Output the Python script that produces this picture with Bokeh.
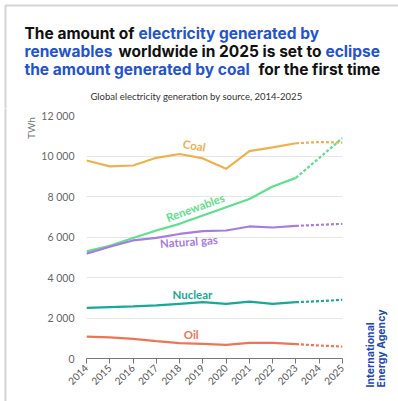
from bokeh.plotting import figure
from bokeh.layouts import column, row
from bokeh.models import Label, FixedTicker, Range1d
from bokeh.embed import file_html
from bokeh.resources import INLINE
import math

# Global electricity generation by source (TWh); 2024-2025 are forecasts
years = [2014, 2015, 2016, 2017, 2018, 2019, 2020, 2021, 2022, 2023, 2024, 2025]
coal = [9780, 9490, 9530, 9910, 10100, 9880, 9370, 10240, 10430, 10630, 10690, 10660]
renewables = [5290, 5570, 5950, 6320, 6650, 7060, 7470, 7880, 8490, 8920, 9900, 10890]
natural_gas = [5180, 5520, 5830, 5960, 6150, 6290, 6320, 6520, 6470, 6550, 6600, 6650]
nuclear = [2500, 2540, 2570, 2620, 2700, 2780, 2700, 2810, 2700, 2780, 2830, 2900]
oil = [1085, 1040, 970, 855, 760, 720, 675, 775, 775, 710, 640, 590]

last_actual = 2023
y_ticks = [0, 2000, 4000, 6000, 8000, 10000, 12000]
y_tick_labels = ["0", "2 000", "4 000", "6 000", "8 000", "10 000", "12 000"]

FONT = "Lato"
HEAD_FONT = "Inter"
BLUE = "#2453cf"
BLACK = "#111111"
CARD = "#d4d4d4"

series = [
    ("Coal", coal, "#efb04f"),
    ("Renewables", renewables, "#5fe08c"),
    ("Natural gas", natural_gas, "#a67ddf"),
    ("Nuclear", nuclear, "#18a898"),
    ("Oil", oil, "#ee7553"),
]

# page geometry (pixels)
W, H = 398, 401
HEAD_H = 108
LEFT_W = 38
SIDE_W = 48
FRAME_L, FRAME_R, FRAME_T, FRAME_B = 78, 342, 115, 358
CARD_EDGE = 5


def blank(width, height, x0, y0):
    """A bare canvas whose data units are page pixels (y grows downward)."""
    f = figure(width=width, height=height, output_backend="svg",
               toolbar_location=None, x_axis_type=None, y_axis_type=None,
               x_range=Range1d(x0, x0 + width), y_range=Range1d(y0 + height, y0),
               min_border=0, frame_align=False)
    f.title = None
    f.outline_line_color = None
    f.grid.grid_line_color = None
    f.background_fill_color = "white"
    f.border_fill_color = "white"
    return f


def label(f, text, x, y, color, size, bold=True, angle=0, align="left",
          baseline="middle", font=FONT):
    f.add_layout(Label(x=x, y=y, text=text, text_color=color, text_font=font,
                       text_font_size=size,
                       text_font_style="bold" if bold else "normal",
                       angle=angle, text_align=align, text_baseline=baseline))


# ---- headline block ----
head = blank(W, HEAD_H, 0, 0)
# card edge (top and left)
head.line([CARD_EDGE, CARD_EDGE, W + 5], [HEAD_H + 5, CARD_EDGE, CARD_EDGE],
          line_color=CARD, line_width=2)

title_rows = [
    [("The amount of", BLACK, 24), ("electricity generated by", BLUE, 138)],
    [("renewables", BLUE, 24), ("worldwide in 2025 is set to", BLACK, 118),
     ("eclipse", BLUE, 325)],
    [("the amount generated by coal", BLUE, 24), ("for the first time", BLACK, 258)],
]
for i, line in enumerate(title_rows):
    for text, color, x in line:
        label(head, text, x, 33 + i * 18, color, "15.5px", font=HEAD_FONT)

label(head, "Global electricity generation by source, 2014-2025", 196, 96,
      "#333333", "9.5px", bold=False, align="center")

# ---- left strip with the unit ----
left = blank(LEFT_W, H - HEAD_H, 0, HEAD_H)
left.line([CARD_EDGE, CARD_EDGE], [HEAD_H - 5, H + 5], line_color=CARD,
          line_width=2)
label(left, "TWh", 30, 127.5, "#777777", "10px", bold=False, angle=math.pi / 2,
      align="center")

# ---- main chart ----
chart_w = W - LEFT_W - SIDE_W
p = figure(width=chart_w, height=H - HEAD_H, output_backend="svg",
           toolbar_location=None, frame_align=False,
           x_range=Range1d(years[0], years[-1]), y_range=Range1d(0, 12000),
           min_border_left=FRAME_L - LEFT_W,
           min_border_right=LEFT_W + chart_w - FRAME_R,
           min_border_top=FRAME_T - HEAD_H, min_border_bottom=H - FRAME_B)
p.title = None
p.outline_line_color = None
p.background_fill_color = "white"
p.border_fill_color = "white"

split = years.index(last_actual)
for name, vals, color in series:
    p.line(years[:split + 1], vals[:split + 1], line_color=color, line_width=2.2)
    p.line(years[split:], vals[split:], line_color=color, line_width=2.2,
           line_dash="3 2")

p.xaxis.ticker = FixedTicker(ticks=years)
p.xaxis.major_label_orientation = math.pi / 4
p.xaxis.axis_line_color = "#777777"
p.xaxis.major_tick_line_color = "#777777"
p.xaxis.major_tick_out = 5
p.xaxis.major_tick_in = 0
p.xaxis.minor_tick_line_color = None
p.xaxis.major_label_text_font = FONT
p.xaxis.major_label_text_font_size = "10px"
p.xaxis.major_label_text_color = "#555555"
p.xaxis.major_label_standoff = 3

p.yaxis.ticker = FixedTicker(ticks=y_ticks)
p.yaxis.major_label_overrides = {t: s for t, s in zip(y_ticks, y_tick_labels)}
p.yaxis.axis_line_color = None
p.yaxis.major_tick_line_color = None
p.yaxis.minor_tick_line_color = None
p.yaxis.major_label_text_font = FONT
p.yaxis.major_label_text_font_size = "10.5px"
p.yaxis.major_label_text_color = "#666666"
p.yaxis.major_label_standoff = 6

p.xgrid.grid_line_color = None
p.ygrid.grid_line_color = "#e6e6e6"
p.ygrid.grid_line_width = 1

# series names, placed along their lines
name_style = [
    ("Coal", 2018.63, 10520, -0.17),
    ("Renewables", 2018.67, 7460, 0.35),
    ("Natural gas", 2018.4, 5780, 0.07),
    ("Nuclear", 2018.55, 3160, 0),
    ("Oil", 2018.5, 1185, 0),
]
colors = {n: c for n, _, c in series}
for name, x, y, ang in name_style:
    p.add_layout(Label(x=x, y=y, text=name, text_color=colors[name],
                       text_font=FONT, text_font_size="11.5px",
                       text_font_style="bold", angle=ang, text_align="center",
                       text_baseline="middle"))

# ---- agency mark ----
side = blank(SIDE_W, H - HEAD_H, W - SIDE_W, HEAD_H)
label(side, "International", 370, 387, "#2347b3", "10.5px", angle=math.pi / 2,
      font=HEAD_FONT)
label(side, "Energy Agency", 381, 387, "#2347b3", "10.5px", angle=math.pi / 2,
      font=HEAD_FONT)

page = column(head, row(left, p, side, spacing=0), spacing=0)
open("out.html", "w").write(file_html(page, INLINE))
